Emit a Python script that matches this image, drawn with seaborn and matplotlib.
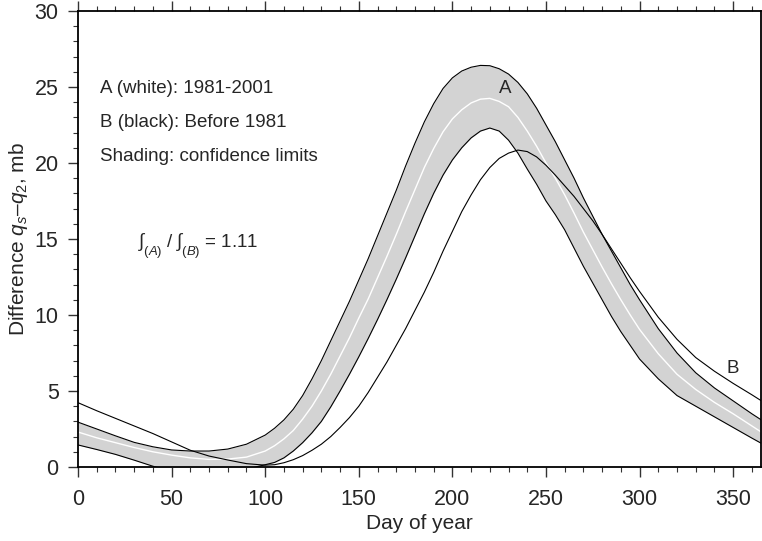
import numpy as np
import pandas as pd
import matplotlib
matplotlib.use("Agg")
import matplotlib.pyplot as plt
import seaborn as sns
from matplotlib.ticker import MultipleLocator

# Day of year sample points (denser where the curves bend most)
days = [0, 10, 20, 30, 40, 50, 60, 70, 80, 90,
        100, 105, 110, 115, 120, 125, 130, 135, 140, 145, 150, 155, 160, 165, 170, 175,
        180, 185, 190, 195, 200, 205, 210, 215, 220, 225, 230, 235, 240, 245, 250, 255,
        260, 265, 270, 275, 280, 285, 290, 295, 300,
        310, 320, 330, 340, 350, 360, 365]

# A (1981-2001): mean curve (white line)
a_mean = [2.3, 1.92, 1.6, 1.28, 1.0, 0.78, 0.6, 0.5, 0.52, 0.65,
          1.05, 1.4, 1.85, 2.4, 3.15, 4.0, 5.0, 6.1, 7.3, 8.5, 9.8, 11.05, 12.45, 13.85,
          15.3, 16.8, 18.25, 19.7, 20.95, 22.05, 22.9, 23.5, 23.95, 24.2, 24.25, 24.05,
          23.7, 23.0, 22.1, 21.1, 20.0, 19.0, 17.9, 16.7, 15.45, 14.3, 13.15, 12.05, 11.0,
          10.0, 9.05,
          7.45, 6.1, 5.1, 4.25, 3.5, 2.7, 2.3]

# A confidence limits (edges of the shading)
a_upper = [2.95, 2.5, 2.05, 1.62, 1.33, 1.12, 1.05, 1.05, 1.18, 1.5,
           2.1, 2.55, 3.1, 3.8, 4.7, 5.8, 7.0, 8.3, 9.6, 10.9, 12.3, 13.7, 15.2, 16.7,
           18.2, 19.8, 21.3, 22.7, 23.9, 24.9, 25.6, 26.05, 26.3, 26.42, 26.4, 26.2,
           25.85, 25.3, 24.55, 23.6, 22.5, 21.4, 20.2, 19.0, 17.7, 16.5, 15.3, 14.2, 13.1,
           12.0, 11.0,
           9.1, 7.5, 6.2, 5.2, 4.35, 3.5, 3.1]
a_lower = [1.45, 1.15, 0.83, 0.45, 0.05, -0.3, -0.55, -0.6, -0.45, -0.15,
           0.15, 0.3, 0.6, 1.05, 1.6, 2.25, 3.0, 3.95, 5.0, 6.1, 7.25, 8.45, 9.7, 11.0,
           12.35, 13.75, 15.2, 16.65, 18.0, 19.2, 20.2, 21.0, 21.65, 22.1, 22.3, 22.1,
           21.5, 20.65, 19.6, 18.6, 17.5, 16.6, 15.6, 14.4, 13.2, 12.1, 11.0, 9.9, 8.9,
           8.0, 7.1,
           5.8, 4.7, 4.0, 3.3, 2.6, 1.9, 1.56]

# B (before 1981)
b_curve = [4.23, 3.7, 3.2, 2.7, 2.2, 1.65, 1.1, 0.72, 0.46, 0.22,
           0.12, 0.15, 0.28, 0.48, 0.75, 1.1, 1.5, 2.0, 2.6, 3.25, 4.0, 4.9, 5.9, 6.9,
           8.0, 9.1, 10.3, 11.5, 12.8, 14.2, 15.5, 16.8, 17.9, 18.9, 19.7, 20.3,
           20.65, 20.85, 20.75, 20.4, 19.85, 19.2, 18.5, 17.8, 17.0, 16.2, 15.3, 14.35, 13.4,
           12.45, 11.55,
           9.85, 8.4, 7.2, 6.3, 5.5, 4.75, 4.36]

df = pd.DataFrame({'Day': days, 'A': a_mean, 'A_hi': a_upper, 'A_lo': a_lower, 'B': b_curve})

sns.set_style("ticks")
plt.rcParams['font.family'] = ['Liberation Sans', 'DejaVu Sans']
plt.rcParams['mathtext.fontset'] = 'custom'
plt.rcParams['mathtext.rm'] = 'Liberation Sans'
plt.rcParams['mathtext.it'] = 'Liberation Sans:italic'
plt.rcParams['mathtext.fallback'] = 'cm'

fig = plt.figure(figsize=(7.62, 5.41), dpi=100)
ax = fig.add_axes([0.1024, 0.1368, 0.8966, 0.8429])

# Shading between confidence limits
ax.fill_between(df['Day'], df['A_lo'], df['A_hi'], color='#d3d3d3', linewidth=0, zorder=1)
sns.lineplot(data=df, x='Day', y='A_hi', ax=ax, color='black', linewidth=0.8, zorder=3)
sns.lineplot(data=df, x='Day', y='A_lo', ax=ax, color='black', linewidth=0.8, zorder=3)
sns.lineplot(data=df, x='Day', y='A', ax=ax, color='white', linewidth=1.0, zorder=2)
sns.lineplot(data=df, x='Day', y='B', ax=ax, color='black', linewidth=0.8, zorder=4)

ax.set_xlim(0, 365)
ax.set_ylim(0, 30)
ax.xaxis.set_major_locator(MultipleLocator(50))
ax.xaxis.set_minor_locator(MultipleLocator(10))
ax.yaxis.set_major_locator(MultipleLocator(5))
ax.yaxis.set_minor_locator(MultipleLocator(1))
ax.tick_params(which='major', direction='out', length=7, width=1.0, labelsize=15.5,
               top=True, right=False, color='#333333')
ax.tick_params(axis='x', which='major', pad=9)
ax.tick_params(axis='y', which='major', pad=7)
ax.tick_params(which='minor', direction='out', length=3.5, width=0.8, top=True, right=False,
               color='#333333')
for s in ax.spines.values():
    s.set_linewidth(1.3)
    s.set_color('black')

ax.set_xlabel('Day of year', fontsize=15, labelpad=3)
ax.set_ylabel('Difference $q_s$\u2013$q_2$, mb', fontsize=15, labelpad=3)

ax.text(11.5, 24.9, 'A (white): 1981-2001', fontsize=13.5, va='center')
ax.text(11.5, 22.65, 'B (black): Before 1981', fontsize=13.5, va='center')
ax.text(11.5, 20.4, 'Shading: confidence limits', fontsize=13.5, va='center')
ax.text(32, 14.5, r'$\int_{(A)}$ / $\int_{(B)}$ = 1.11', fontsize=13.5, va='center')
ax.text(228, 24.9, 'A', fontsize=13.5, ha='center', va='center')
ax.text(350, 6.5, 'B', fontsize=13.5, ha='center', va='center')

fig.savefig('out.png', dpi=100)
